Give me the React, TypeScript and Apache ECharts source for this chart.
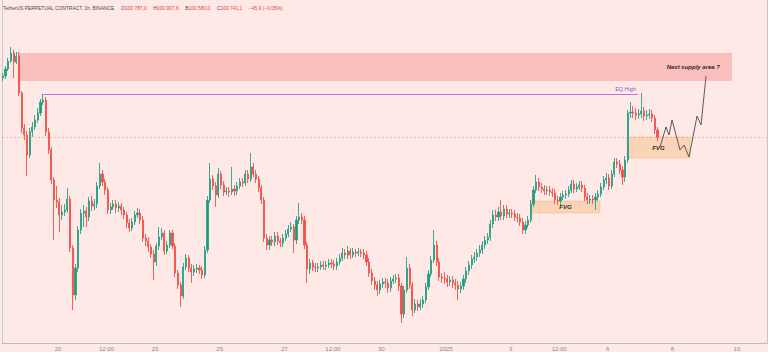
import React, { useEffect, useRef } from 'react';
import * as echarts from 'echarts';

// ---- data (2h candles) ----
const FIRST_OPEN = 103700;
const CANDLE_START = '2024-12-18T07:00';
const CANDLE_STEP_HOURS = 2;

const closes = [
  103800, 104150, 104550, 104950, 104500, 104800, 102950, 101200, 100850, 99850,
  101000, 101250, 101600, 101950, 102500, 102600, 101000, 100100, 98600, 97600,
  97500, 96850, 97000, 97100, 97650, 95200, 92850, 94200, 96100, 96950,
  97050, 96750, 97550, 97300, 97400, 98300, 98900, 98500, 98100, 97100,
  97250, 97400, 97200, 97300, 97100, 96850, 96450, 96200, 96500, 96850,
  96950, 96600, 95700, 95550, 95250, 94900, 94500, 95300, 95750, 95950,
  95050, 95350, 95950, 95300, 93950, 93350, 92800, 94250, 94700, 94200,
  94000, 94150, 94200, 94100, 93850, 95100, 97600, 98650, 98300, 97850,
  98900, 98350, 98000, 98050, 98000, 98150, 98050, 98300, 98500, 98450,
  98900, 98650, 99250, 98900, 98650, 98200, 97600, 95700, 95350, 95600,
  95500, 95800, 95550, 95450, 95700, 95900, 96150, 96250, 95600, 96600,
  96750, 96600, 95350, 94150, 94450, 94250, 94200, 94250, 94350, 94300,
  94350, 94450, 94400, 94300, 94500, 94700, 94950, 94850, 95050, 94850,
  95000, 94950, 95000, 94950, 94850, 94500, 93950, 93550, 93350, 93100,
  93400, 93500, 93450, 93200, 93550, 93650, 93700, 93300, 91900, 93100,
  94200, 93350, 92100, 92400, 92250, 92400, 92600, 93250, 93900, 94600,
  95350, 94500, 93750, 93700, 93650, 93500, 93600, 93450, 93350, 93150,
  93300, 93650, 94050, 94350, 94650, 94750, 94950, 95100, 95350, 95600,
  95750, 96400, 96850, 96750, 97000, 96800, 97150, 96900, 96950, 96900,
  96750, 96700, 96500, 96100, 96350, 96600, 97400, 98100, 98500, 98250,
  98150, 98050, 98100, 98000, 97950, 97600, 97550, 97750, 97850, 97900,
  98100, 98400, 98150, 98250, 98350, 98200, 97750, 97600, 97650, 97600,
  97750, 97900, 98250, 98600, 98700, 98300, 98900, 99500, 99400, 99100,
  98750, 99600, 101950, 102000, 101950, 101850, 101900, 102050, 101800, 101850,
  101900, 101700, 101100, 100741.1,
];

const highs = [
  103950, 104300, 104700, 105250, 105100, 105000, 105000, 103050, 101400, 101050,
  101200, 101500, 101850, 102200, 102650, 102900, 102750, 101200, 100250, 98750,
  98300, 97700, 97350, 97400, 98200, 97800, 95350, 94400, 96300, 97150,
  97350, 97250, 97750, 97800, 97650, 98500, 99450, 99100, 98650, 98250,
  97450, 97600, 97600, 97500, 97450, 97250, 97000, 96650, 96700, 97050,
  97200, 97150, 96800, 95900, 95750, 95400, 95100, 95450, 96250, 96200,
  96100, 95550, 96100, 96100, 95450, 94100, 93500, 94450, 94900, 94850,
  94400, 94350, 94400, 94350, 94300, 95300, 97800, 99450, 98850, 98500,
  99200, 99050, 98550, 98250, 98250, 99250, 98350, 98500, 98700, 98700,
  99100, 99100, 99950, 99450, 99100, 98800, 98350, 97750, 95900, 95800,
  95800, 96000, 96000, 95700, 95900, 96100, 96350, 96500, 96400, 96800,
  97450, 96950, 96800, 95500, 94650, 94600, 94450, 94450, 94550, 94550,
  94550, 94650, 94650, 94600, 94700, 94900, 95200, 95150, 95300, 95200,
  95200, 95150, 95200, 95150, 95150, 95050, 94700, 94150, 93750, 93550,
  93600, 93700, 93700, 93650, 93750, 93850, 93900, 93900, 93450, 93300,
  94750, 94400, 93500, 92650, 92600, 92650, 92800, 93450, 94100, 94800,
  96100, 95550, 94700, 93950, 94000, 93850, 93800, 93800, 93650, 93550,
  93500, 93850, 94250, 94550, 94850, 95000, 95150, 95350, 95550, 95800,
  95950, 96600, 97100, 97100, 97250, 97600, 97350, 97350, 97150, 97150,
  97100, 96950, 96900, 96700, 96550, 96800, 97600, 98300, 98850, 98700,
  98450, 98350, 98300, 98300, 98200, 98150, 97800, 97950, 98050, 98100,
  98300, 98600, 98600, 98450, 98550, 98550, 98350, 97950, 97850, 97850,
  97950, 98100, 98450, 98800, 98950, 98900, 99100, 99700, 99700, 99600,
  99300, 99800, 102100, 102500, 102300, 102200, 102150, 102950, 102250, 102100,
  102150, 102100, 101850, 101250,
];

const lows = [
  103550, 103650, 104050, 104450, 103700, 104400, 102800, 100950, 100600, 98800,
  99700, 100750, 101100, 101450, 101800, 102350, 100800, 99900, 98400, 95600,
  97200, 96000, 96600, 96800, 96950, 95000, 92100, 92600, 94000, 95900,
  96250, 96250, 96550, 97050, 97100, 97200, 98150, 98300, 97850, 96900,
  96900, 97100, 96950, 97000, 96850, 96650, 96200, 96000, 96050, 96350,
  96700, 96400, 95500, 95300, 95000, 94700, 93600, 94300, 95100, 95600,
  94850, 94900, 95200, 95150, 93750, 93150, 92250, 92650, 94100, 94000,
  93450, 93800, 93950, 93900, 93650, 93700, 94950, 97450, 98100, 97250,
  97700, 98150, 97800, 97850, 97750, 97850, 97800, 97850, 98150, 98250,
  98300, 98450, 98500, 98750, 98450, 98000, 97400, 95500, 95100, 95100,
  95300, 95300, 95350, 95250, 95250, 95550, 95750, 96000, 94950, 95400,
  96400, 96400, 95150, 93450, 93900, 94050, 94000, 94000, 94100, 94100,
  94100, 94200, 94200, 94100, 94100, 94350, 94550, 94650, 94650, 94650,
  94700, 94750, 94800, 94750, 94650, 94300, 93750, 93350, 93100, 92800,
  92900, 93200, 93200, 92950, 93000, 93400, 93450, 93050, 91450, 91700,
  92950, 93150, 91800, 91950, 92050, 92100, 92200, 92450, 93100, 93750,
  94450, 94300, 93550, 93450, 93400, 93250, 93300, 93200, 93100, 92600,
  92950, 93100, 93450, 93850, 94150, 94450, 94550, 94750, 94900, 95150,
  95400, 95550, 96200, 96550, 96550, 96600, 96600, 96700, 96700, 96700,
  96550, 96500, 96300, 95900, 95900, 96200, 96450, 97250, 97950, 98050,
  97950, 97850, 97850, 97800, 97750, 97400, 97350, 97350, 97600, 97650,
  97750, 97950, 97950, 98000, 98100, 98000, 97550, 97400, 97400, 97400,
  97100, 97550, 97750, 98100, 98400, 98100, 98150, 98750, 99200, 98900,
  98350, 98500, 99450, 101700, 101700, 101600, 101650, 101700, 101550, 101600,
  101650, 101500, 100900, 100550,
];

const tickTimes = [
  '2024-12-20T00:00', '2024-12-21T12:00', '2024-12-23T00:00', '2024-12-25T00:00',
  '2024-12-27T00:00', '2024-12-28T12:00', '2024-12-30T00:00', '2025-01-01T00:00',
  '2025-01-03T00:00', '2025-01-04T12:00', '2025-01-06T00:00', '2025-01-08T00:00',
  '2025-01-10T00:00',
];
const tickLabels = ['20', '12:00', '23', '25', '27', '12:00', '30', '2025', '3', '12:00', '6', '8', '10'];

const X_MIN = '2024-12-18T06:25';
const X_MAX = '2025-01-10T22:18';
const Y_MIN = 90450;
const Y_MAX = 107600;

const supplyZone = { from: '2024-12-18T18:15', to: '2025-01-09T20:20', top: 104950, bottom: 103550, label: 'Next supply area ?' };
const eqHigh = { from: '2024-12-19T13:00', to: '2025-01-06T22:30', price: 102900, label: 'EQ High' };
const fvgZones = [
  { from: '2025-01-03T15:00', to: '2025-01-05T18:20', top: 97550, bottom: 96950, label: 'FVG' },
  { from: '2025-01-06T14:25', to: '2025-01-08T13:10', top: 100750, bottom: 99700, label: 'FVG' },
];

const projTimes = [
  '2025-01-07T14:53', '2025-01-07T19:20', '2025-01-07T21:34', '2025-01-07T23:48',
  '2025-01-08T05:44', '2025-01-08T08:43', '2025-01-08T12:25', '2025-01-08T18:22',
  '2025-01-08T21:20', '2025-01-09T01:03',
];
const projPrices = [100250, 101250, 100850, 101600, 100100, 100350, 99750, 101800, 101350, 103800];

const headerParts = {
  title: 'TetherUS PERPETUAL CONTRACT, 1h, BINANCE',
  open: '100 787,0',
  high: '100 907,6',
  low: '100 580,0',
  close: '100 741,1',
  change: '\u221245,9 (\u22120,05%)',
};

const FONT = 'Liberation Sans, Arial, sans-serif';

export default function App() {
  const ref = useRef<HTMLDivElement>(null);

  useEffect(() => {
    if (!ref.current) return;
    const chart = echarts.init(ref.current, undefined, { renderer: 'svg' });
    const t0 = Date.parse(CANDLE_START);
    const stepMs = CANDLE_STEP_HOURS * 3600 * 1000;
    const candles = closes.map((c, i) => [
      t0 + i * stepMs,
      i === 0 ? FIRST_OPEN : closes[i - 1],
      c,
      lows[i],
      highs[i],
    ]);
    const tickMs = tickTimes.map((t) => Date.parse(t));
    const lastClose = closes[closes.length - 1];

    const zoneLabelBase = { show: true, fontFamily: FONT, fontWeight: 'bold' as const, fontStyle: 'italic' as const, color: '#2a2a2a', fontSize: 6 };

    chart.setOption({
      animation: false,
      backgroundColor: '#fee9e6',
      textStyle: { fontFamily: FONT },
      grid: { left: 2, right: 1, top: 0, bottom: 9, containLabel: false },
      xAxis: {
        type: 'value',
        min: Date.parse(X_MIN),
        max: Date.parse(X_MAX),
        axisLine: { show: true, lineStyle: { color: '#bdbdbd', width: 1 } },
        axisTick: { show: false },
        splitLine: { show: false },
        axisLabel: {
          customValues: tickMs,
          formatter: (v: number) => {
            let best = 0;
            for (let k = 1; k < tickMs.length; k++) {
              if (Math.abs(tickMs[k] - v) < Math.abs(tickMs[best] - v)) best = k;
            }
            return tickLabels[best];
          },
          fontSize: 6,
          color: '#8a8a8a',
          margin: 3,
          fontFamily: FONT,
          hideOverlap: false,
          showMinLabel: true,
          showMaxLabel: true,
        },
      },
      yAxis: [
        {
          type: 'value',
          min: Y_MIN,
          max: Y_MAX,
          axisLine: { show: true, lineStyle: { color: '#c3ccd4', width: 1 } },
          axisTick: { show: false },
          axisLabel: { show: false },
          splitLine: { show: false },
        },
        {
          type: 'value',
          position: 'right',
          min: Y_MIN,
          max: Y_MAX,
          axisLine: { show: true, lineStyle: { color: '#c4c4c4', width: 1 } },
          axisTick: { show: false },
          axisLabel: { show: false },
          splitLine: { show: false },
        },
      ],
      graphic: [
        {
          type: 'text',
          left: 3,
          top: 2,
          style: {
            text:
              `{g|${headerParts.title}}  {g|O}{r|${headerParts.open}}  {g|H}{r|${headerParts.high}}  ` +
              `{g|B}{r|${headerParts.low}}  {g|C}{r|${headerParts.close}}  {r|${headerParts.change}}`,
            rich: {
              g: { fill: '#4a4a4a', fontSize: 4.9, fontFamily: FONT },
              r: { fill: '#e0473f', fontSize: 4.9, fontFamily: FONT },
            },
          },
        },
      ],
      series: [
        {
          type: 'candlestick',
          encode: { x: 0, y: [1, 2, 3, 4] },
          data: candles,
          barWidth: 1.6,
          itemStyle: {
            color: '#1f9c80',
            color0: '#f0524b',
            borderColor: '#2aa286',
            borderColor0: '#f0524b',
            borderWidth: 0.9,
          },
          markArea: {
            silent: true,
            data: [
              [
                {
                  xAxis: Date.parse(supplyZone.from),
                  yAxis: supplyZone.top,
                  itemStyle: { color: 'rgba(244,125,125,0.4)' },
                  label: { ...zoneLabelBase, position: 'insideRight', distance: 12, formatter: supplyZone.label },
                },
                { xAxis: Date.parse(supplyZone.to), yAxis: supplyZone.bottom },
              ],
              ...fvgZones.map((z) => [
                {
                  xAxis: Date.parse(z.from),
                  yAxis: z.top,
                  itemStyle: { color: 'rgba(248,180,120,0.42)', borderColor: 'rgba(240,170,110,0.6)', borderWidth: 0.6 },
                  label: { ...zoneLabelBase, position: 'inside', formatter: z.label },
                },
                { xAxis: Date.parse(z.to), yAxis: z.bottom },
              ]),
            ],
          },
          markLine: {
            silent: true,
            symbol: ['none', 'none'],
            data: [
              {
                yAxis: lastClose,
                lineStyle: { color: 'rgba(240,130,110,0.45)', type: [2, 2], width: 1 },
                label: { show: false },
              },
              [
                {
                  coord: [Date.parse(eqHigh.from), eqHigh.price],
                  lineStyle: { color: '#bb72e4', type: 'solid', width: 1.2 },
                  label: {
                    show: true,
                    position: 'insideEndTop',
                    formatter: eqHigh.label,
                    color: '#9b4ed0',
                    fontSize: 5.5,
                    fontFamily: FONT,
                    distance: 2,
                  },
                },
                { coord: [Date.parse(eqHigh.to), eqHigh.price] },
              ],
            ],
          },
        },
        {
          type: 'lines',
          coordinateSystem: 'cartesian2d',
          polyline: true,
          silent: true,
          z: 5,
          symbol: ['none', 'arrow'],
          symbolSize: 5,
          lineStyle: { color: '#5a5a5a', width: 1, opacity: 1 },
          data: [{ coords: projTimes.map((t, i) => [Date.parse(t), projPrices[i]]) }],
        },
      ],
    });

    return () => chart.dispose();
  }, []);

  return (
    <div style={{ position: 'fixed', left: 0, top: 0, width: 768, height: 352, background: '#fee9e6' }}>
      <div ref={ref} style={{ width: 768, height: 352 }} />
    </div>
  );
}
